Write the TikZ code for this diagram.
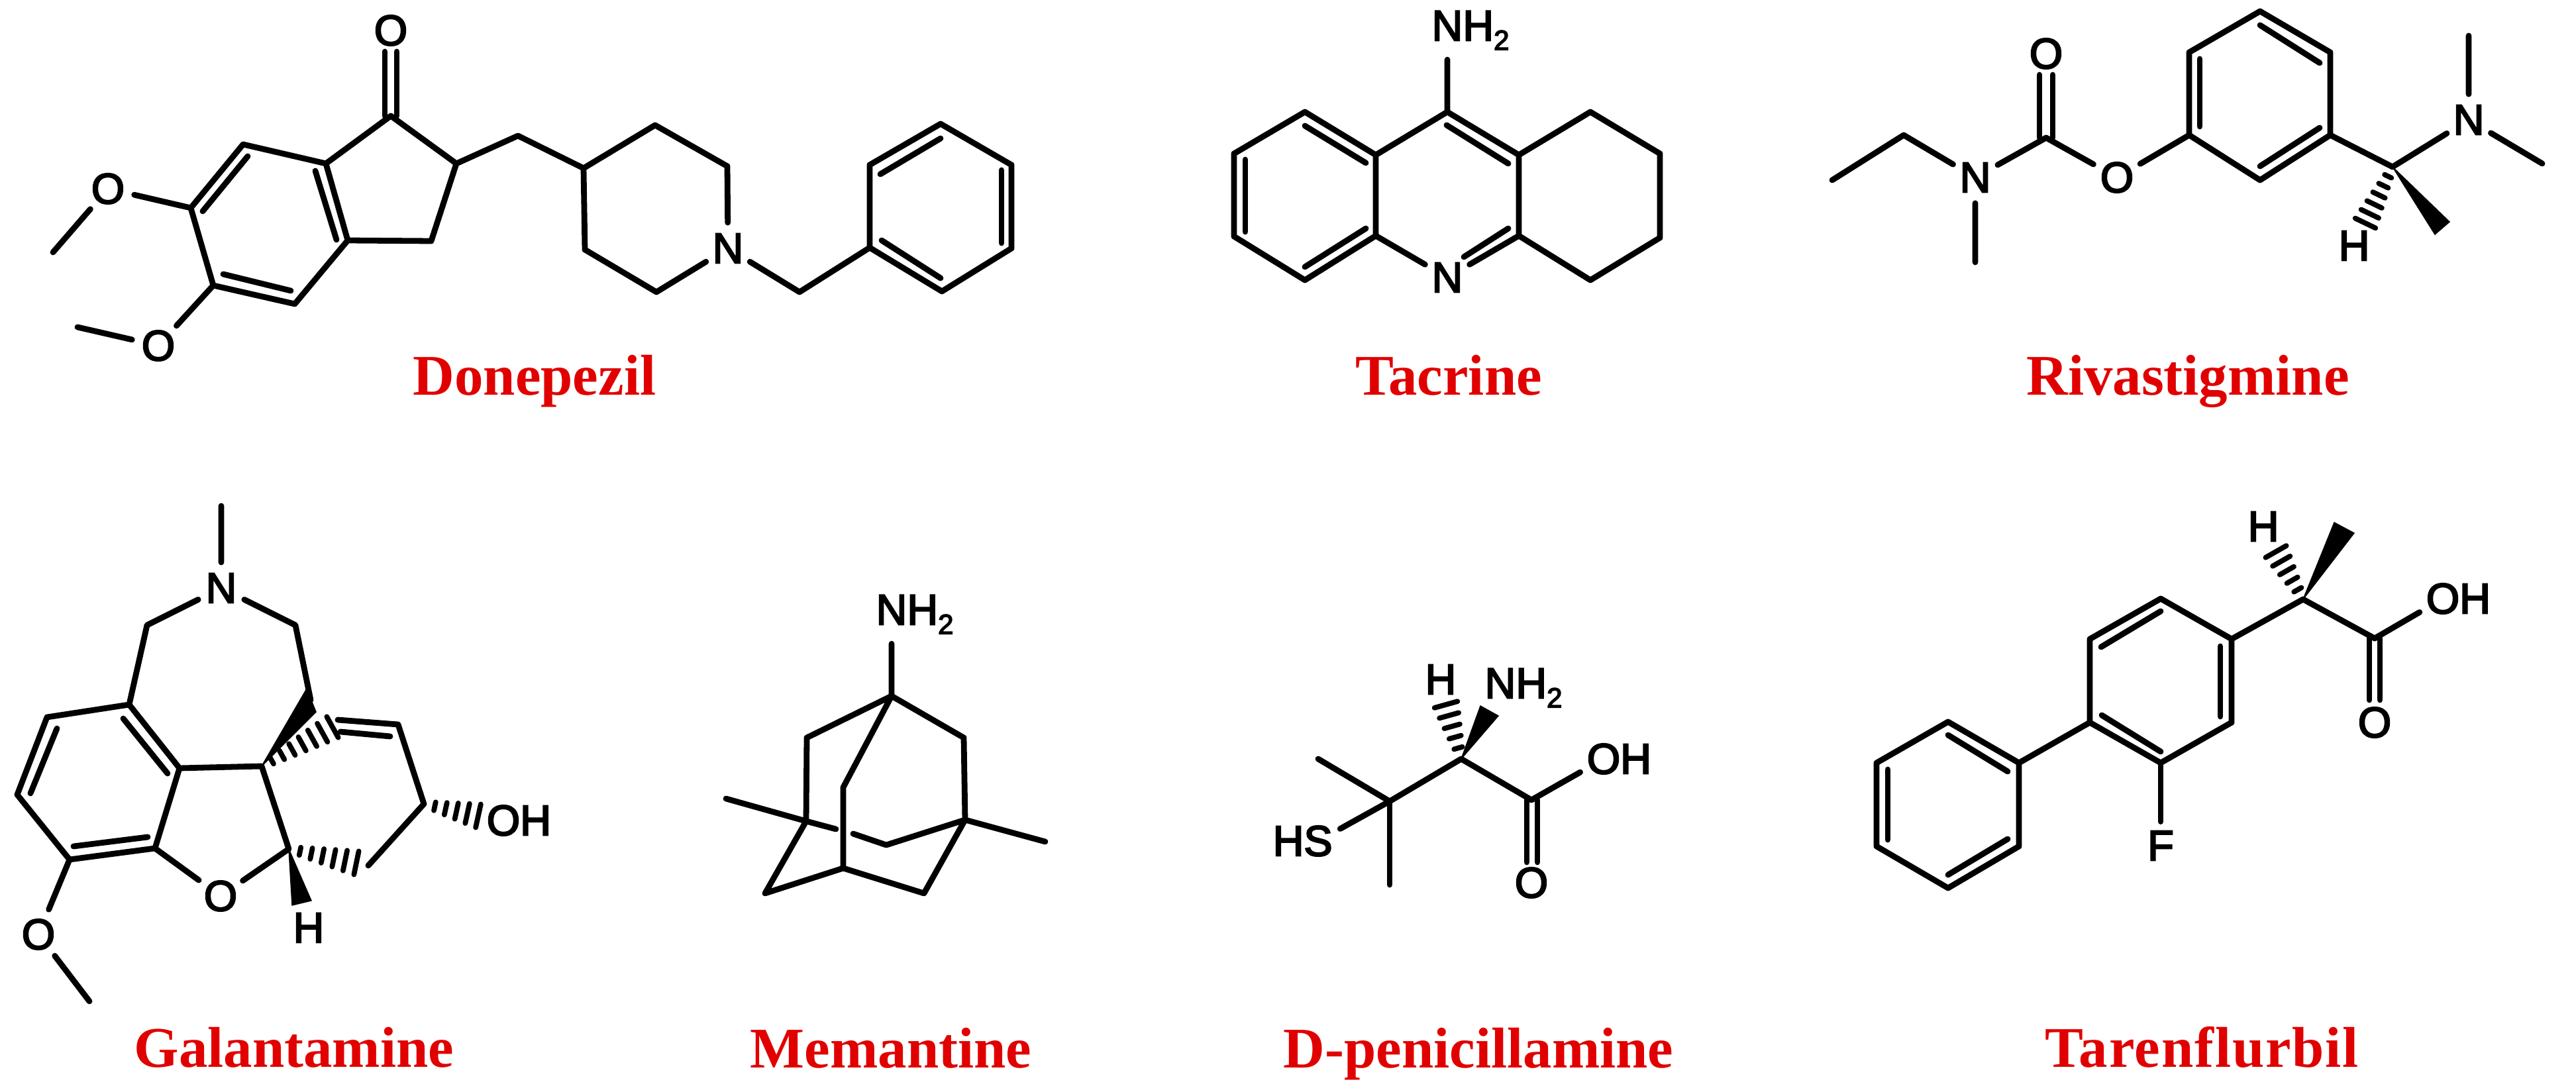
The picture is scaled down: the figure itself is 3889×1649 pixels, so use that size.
\documentclass[tikz,border=0pt]{standalone}
\usepackage{fontspec}
\setmainfont{Liberation Sans}
\newfontfamily\labelfont{Liberation Serif}
\newfontfamily\atomfont[FakeBold=3.5]{Liberation Sans}
\usetikzlibrary{calc}
\definecolor{namered}{RGB}{225,0,0}
\newcommand\subtwo{\raisebox{-0.22em}{\fontsize{12pt}{13pt}\selectfont 2}}
\tikzset{
  bond/.style={line width=2.5pt,line cap=round,line join=round,black},
  wedgefill/.style={fill=black,draw=black,line width=0.4pt,line join=miter},
  hashline/.style={line width=2.2pt,line cap=round,black},
  atom/.style={shape=circle,inner sep=1.2pt,font=\atomfont\fontsize{18.4pt}{20pt}\selectfont,text=black},
  drugname/.style={anchor=base,inner sep=0pt,text=namered,font=\labelfont\bfseries\fontsize{24.7pt}{28pt}\selectfont},
}
\newcommand\atoms[1]{\foreach \n/\x/\y in {#1}{\coordinate (\n) at (\x,\y);}}
\newcommand\innerbond[2]{\coordinate (ia) at (#1);\coordinate (ib) at (#2);\draw[bond] (ia)--(ib);}
\newcommand\hashbond[4]{%
  \coordinate (hfar) at ($(#1)!3!(#2)$);
  \foreach \k in {1,...,#3}{%
    \pgfmathsetmacro\hf{\k/#3}%
    \pgfmathsetmacro\hw{#4*(0.2+0.8*\hf)}%
    \draw[hashline] ($(#1)!\hf!(#2)!\hw cm!90:(hfar)$) -- ($(#1)!\hf!(#2)!-\hw cm!90:(hfar)$);
  }}
\begin{document}
\begin{tikzpicture}[x=0.01cm,y=-0.01cm]
\useasboundingbox (0,0) rectangle (3889,1649);
\fill[white] (0,0) rectangle (3889,1649);

% ---------- Donepezil
\atoms{da/590/175,db/492/247,dc/689/247,dd/651/364,de/525/363,df/367/218,dg/288/314,dh/322/431,di/445/459,
 dj/80/381,dk/117/494,dl/782/205,dm/881/254,dn/989/189,dp/1098/251,dq/991/441,dr/883/377,ds/1207/441,
 dt/1313/374,du/1313/249,dv/1420/187,dw/1527/249,dx/1527/375,dy/1422/440,
 dc1/581/175,dc2/599/175,dt1/581/78,dt2/599/78}
\node[atom] (dO1) at (590,46) {O};
\node[atom] (dO2) at (163,285) {O};
\node[atom] (dO3) at (239,522) {O};
\node[atom] (dN) at (1099,375) {N};
\draw[bond] (db)--(da)--(dc)--(dd)--(de)--(db);
\draw[bond] (db)--(df)--(dg)--(dh)--(di)--(de);
\draw[bond] (dc)--(dl)--(dm)--(dn)--(dp)--(dN);
\draw[bond] (dm)--(dr)--(dq)--(dN);
\draw[bond] (dN)--(ds)--(dt)--(du)--(dv)--(dw)--(dx)--(dy)--(dt);
\draw[bond] (dc1)--(dt1);\draw[bond] (dc2)--(dt2);
\draw[bond] (dg)--(dO2)--(dj);
\draw[bond] (dh)--(dO3)--(dk);
\innerbond{374,236}{306,319}
\innerbond{476,258}{508,362}
\innerbond{337,414}{439,439}
\innerbond{1329,263}{1420,209}
\innerbond{1512,257}{1512,367}
\innerbond{1331,363}{1420,420}
\node[drugname] (nameD) at (807,597) {Donepezil};

% ---------- Tacrine
\atoms{ta/2185/169,tb/2077/234,tc/1970/169,td/1863/232,te/1863/357,tf/1970/423,tg/2077/356,
 th/2293/356,ti/2293/234,tj/2401/169,tk/2506/232,tl/2506/359,tm/2401/423}
\node[atom] (tN1) at (2185,46) {N\rlap{H\subtwo}};
\node[atom] (tN2) at (2185,419) {N};
\draw[bond] (tN1)--(ta)--(tb)--(tc)--(td)--(te)--(tf)--(tg)--(tb);
\draw[bond] (ta)--(ti)--(th)--(tN2)--(tg);
\draw[bond] (ti)--(tj)--(tk)--(tl)--(tm)--(th);
\innerbond{1970,190}{2062,246}
\innerbond{1880,241}{1880,350}
\innerbond{1970,403}{2062,345}
\innerbond{2184,189}{2277,247}
\innerbond{2210,388}{2277,345}
\node[drugname] (nameT) at (2187,597) {Tacrine};

% ---------- Rivastigmine
\atoms{ra/2766/272,rb/2874/204,rc/2982/396,rd/3089/208,re/3305/204,rf/3305/79,rg/3412/17,rh/3518/79,ri/3518/204,
 rj/3412/272,rk/3612/252,rl/3727/54,rm/3838/247,rw1/3676/354,rw2/3698/335,rh1/3571/337,
 rd1/3079/208,rd2/3099/208,ru1/3079/113,ru2/3099/113}
\node[atom] (rN1) at (2982,268) {N};
\node[atom] (rO1) at (3089,81) {O};
\node[atom] (rO2) at (3196,268) {O};
\node[atom] (rN2) at (3727,181) {N};
\node[atom] (rH) at (3554,371) {H};
\draw[bond] (ra)--(rb)--(rN1)--(rc);
\draw[bond] (rN1)--(rd)--(rO2)--(re);
\draw[bond] (rd1)--(ru1);\draw[bond] (rd2)--(ru2);
\draw[bond] (re)--(rf)--(rg)--(rh)--(ri)--(rj)--(re);
\draw[bond] (ri)--(rk)--(rN2)--(rl);
\draw[bond] (rN2)--(rm);
\fill[wedgefill] (rk)--(rw1)--(rw2)--cycle;
\hashbond{rk}{rh1}{6}{0.17}
\innerbond{3321,89}{3321,191}
\innerbond{3412,38}{3502,95}
\innerbond{3502,193}{3412,251}
\node[drugname] (nameR) at (3303,597) {Rivastigmine};

% ---------- Galantamine
\atoms{ga/334/764,gb/222/944,gc/446/944,gd/195/1064,ge/71/1083,gf/26/1200,gg/105/1298,gh/234/1281,gi/271/1160,
 gj/395/1157,gk/463/1040,gl/477/1075,gm/469/1057,gn/502/1098,gv/510/1087,gp/601/1094,gq/640/1214,gr/722/1232,
 gs/436/1282,gt/538/1303,gu/556/1307,gw/441/1367,gx/470/1360,gy/135/1512}
\node[atom] (gN) at (334,888) {N};
\node[atom] (gO1) at (333,1353) {O};
\node[atom] (gO2) at (58,1411) {O};
\node[atom] (gO3) at (760,1239) {O\rlap{H}};
\node[atom] (gH) at (466,1401) {H};
\draw[bond] (ga)--(gN)--(gb)--(gd)--(ge)--(gf)--(gg)--(gh)--(gi)--(gd);
\draw[bond] (gN)--(gc)--(gm);
\draw[bond] (gi)--(gj)--(gs)--(gO1)--(gh);
\draw[bond] (gg)--(gO2)--(gy);
\draw[bond] (gv)--(gp)--(gq)--(gu);
\fill[wedgefill] (gj)--(gk)--(gl)--cycle;
\fill[wedgefill] (gs)--(gw)--(gx)--cycle;
\hashbond{gj}{gn}{7}{0.18}
\hashbond{gs}{gt}{6}{0.18}
\hashbond{gq}{gr}{5}{0.18}
\innerbond{86,1100}{46,1198}
\innerbond{186,1085}{253,1168}
\innerbond{111,1278}{223,1264}
\innerbond{514,1105}{589,1112}
\node[drugname] (nameG) at (444,1611) {Galantamine};

% ---------- Memantine
\atoms{ma/1346/1051,mb/1218/1114,mc/1455/1114,md/1217/1240,me/1457/1238,mf/1273/1189,mg/1273/1311,mh/1155/1349,
 mi/1395/1349,mj/1096/1206,mk/1578/1271,ml/1338/1276,mm/1262/1252,mn/1288/1259}
\node[atom] (mN) at (1346,928) {N\rlap{H\subtwo}};
\draw[bond] (mN)--(ma)--(mb)--(md)--(mh)--(mg)--(mi)--(me)--(mc)--(ma)--(mf)--(mg);
\draw[bond] (mj)--(md)--(mm);
\draw[bond] (mn)--(ml)--(me)--(mk);
\node[drugname] (nameM) at (1345,1612) {Memantine};

% ---------- D-penicillamine
\atoms{pa/2206/1146,pb/2098/1210,pc/1990/1146,pd/2098/1336,pe/2312/1208,pw1/2235/1066,pw2/2262/1081,ph1/2183/1064,
 pe1/2305/1208,pe2/2321/1208,pf1/2305/1302,pf2/2321/1302}
\node[atom] (pN) at (2265,1039) {N\rlap{H\subtwo}};
\node[atom] (pH) at (2175,1026) {H};
\node[atom] (pS) at (1990,1270) {\llap{H}S};
\node[atom] (pO1) at (2421,1146) {O\rlap{H}};
\node[atom] (pO2) at (2312,1333) {O};
\draw[bond] (pa)--(pb)--(pc);
\draw[bond] (pb)--(pd);
\draw[bond] (pb)--(pS);
\draw[bond] (pa)--(pe)--(pO1);
\draw[bond] (pe1)--(pf1);\draw[bond] (pe2)--(pf2);
\fill[wedgefill] (pa)--(pw1)--(pw2)--cycle;
\hashbond{pa}{ph1}{5}{0.18}
\node[drugname] (nameP) at (2232,1612) {D-penicillamine};

% ---------- Tarenflurbil
\atoms{fa/3477/905,fw1/3524/789,fw2/3554/805,fh1/3436/833,fb/3585/964,fc/3369/965,fd/3369/1091,fe/3262/1152,
 ff/3155/1091,fg/3155/965,fi/3262/904,fj/3048/1152,fk/2941/1090,fl/2833/1152,fm/2833/1278,fn/2941/1341,fp/3048/1278,
 fb1/3577/964,fb2/3593/964,fq1/3577/1057,fq2/3593/1057}
\node[atom] (fH) at (3417,795) {H};
\node[atom] (fO1) at (3688,904) {O\rlap{H}};
\node[atom] (fO2) at (3585,1091) {O};
\node[atom] (fF) at (3262,1277) {F};
\draw[bond] (fO1)--(fb)--(fa)--(fc)--(fd)--(fe)--(ff)--(fg)--(fi)--(fc);
\draw[bond] (fb1)--(fq1);\draw[bond] (fb2)--(fq2);
\draw[bond] (fe)--(fF);
\draw[bond] (ff)--(fj)--(fk)--(fl)--(fm)--(fn)--(fp)--(fj);
\fill[wedgefill] (fa)--(fw1)--(fw2)--cycle;
\hashbond{fa}{fh1}{5}{0.18}
\innerbond{3172,977}{3262,923}
\innerbond{3352,976}{3352,1082}
\innerbond{3173,1080}{3262,1135}
\innerbond{2941,1110}{3031,1165}
\innerbond{2850,1162}{2850,1268}
\innerbond{3031,1267}{2941,1321}
\node[drugname] (nameF) at (3324,1611) {\addfontfeature{LetterSpace=2.1}Tarenflurbil};
\end{tikzpicture}
\end{document}
